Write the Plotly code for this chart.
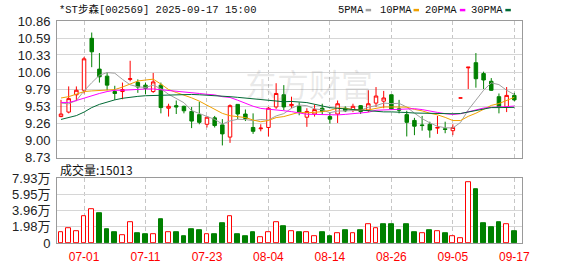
import plotly.graph_objects as go

# ---------------- data ----------------
dates = ["06-26", "06-27", "06-30", "07-01", "07-02", "07-03", "07-04", "07-07", "07-08", "07-09",
         "07-10", "07-11", "07-14", "07-15", "07-16", "07-17", "07-18", "07-21", "07-22", "07-23",
         "07-24", "07-25", "07-28", "07-29", "07-30", "07-31", "08-01", "08-04", "08-05", "08-06",
         "08-07", "08-08", "08-11", "08-12", "08-13", "08-14", "08-15", "08-18", "08-19", "08-20",
         "08-21", "08-22", "08-25", "08-26", "08-27", "08-28", "08-29", "09-01", "09-02", "09-03",
         "09-04", "09-05", "09-08", "09-09", "09-10", "09-11", "09-12", "09-15", "09-16", "09-17"]

opens = [9.37, 9.44, 9.71, 9.78, 10.59, 10.11, 10.00, 9.76, 9.76, 9.95,
         9.90, 9.86, 9.76, 9.86, 9.50, 9.54, 9.53, 9.45, 9.40, 9.25,
         9.35, 9.24, 9.05, 9.56, 9.41, 9.20, 9.18, 9.20, 9.52, 9.71,
         9.54, 9.53, 9.36, 9.41, 9.50, 9.37, 9.41, 9.50, 9.48, 9.54,
         9.47, 9.58, 9.61, 9.71, 9.49, 9.40, 9.31, 9.24, 9.25, 9.19,
         9.18, 9.15, 9.66, 10.13, 10.21, 10.04, 9.92, 9.68, 9.52, 9.70]
highs = [9.63, 9.84, 9.84, 10.30, 10.68, 10.36, 10.06, 9.85, 9.90, 10.24,
         9.95, 9.90, 10.05, 9.90, 9.57, 9.62, 9.54, 9.52, 9.60, 9.37,
         9.38, 9.33, 9.56, 9.56, 9.48, 9.42, 9.25, 9.52, 9.89, 9.86,
         9.68, 9.59, 9.50, 9.56, 9.57, 9.44, 9.62, 9.53, 9.57, 9.55,
         9.78, 9.83, 9.77, 9.71, 9.63, 9.46, 9.35, 9.38, 9.29, 9.38,
         9.29, 9.25, 9.66, 10.14, 10.36, 10.07, 9.97, 9.73, 9.83, 9.74]
lows = [9.36, 9.42, 9.61, 9.73, 10.14, 9.90, 9.78, 9.63, 9.64, 9.92,
        9.74, 9.72, 9.74, 9.42, 9.37, 9.41, 9.42, 9.19, 9.25, 9.20,
        9.20, 8.92, 8.96, 9.33, 9.30, 9.10, 9.14, 9.06, 9.49, 9.47,
        9.50, 9.39, 9.21, 9.37, 9.40, 9.26, 9.27, 9.44, 9.44, 9.41,
        9.44, 9.52, 9.50, 9.48, 9.42, 9.06, 9.08, 9.15, 9.04, 9.10,
        9.11, 9.08, 9.66, 9.80, 9.82, 9.80, 9.77, 9.42, 9.44, 9.61]
closes = [9.41, 9.65, 9.78, 10.27, 10.38, 9.99, 9.86, 9.73, 9.79, 9.96,
          9.83, 9.81, 9.91, 9.51, 9.53, 9.52, 9.46, 9.30, 9.28, 9.36,
          9.23, 9.10, 9.54, 9.41, 9.34, 9.14, 9.19, 9.50, 9.73, 9.52,
          9.56, 9.44, 9.45, 9.48, 9.45, 9.33, 9.57, 9.46, 9.53, 9.45,
          9.57, 9.69, 9.66, 9.49, 9.47, 9.28, 9.22, 9.23, 9.16, 9.20,
          9.17, 9.20, 9.66, 10.14, 9.96, 9.94, 9.78, 9.52, 9.70, 9.63]

ma5 = [9.58, 9.57, 9.62, 9.77, 9.898, 10.014, 10.056, 10.046, 9.95, 9.866,
       9.834, 9.824, 9.86, 9.804, 9.718, 9.656, 9.586, 9.464, 9.418, 9.384,
       9.326, 9.254, 9.302, 9.328, 9.324, 9.306, 9.324, 9.316, 9.38, 9.416,
       9.50, 9.55, 9.54, 9.49, 9.476, 9.43, 9.456, 9.458, 9.468, 9.468,
       9.516, 9.54, 9.58, 9.572, 9.576, 9.518, 9.424, 9.338, 9.272, 9.218,
       9.196, 9.192, 9.278, 9.474, 9.626, 9.78, 9.896, 9.868, 9.78, 9.714]
ma10 = [9.66, 9.68, 9.72, 9.76, 9.77, 9.78, 9.78, 9.79, 9.83, 9.882,
        9.924, 9.94, 9.953, 9.877, 9.792, 9.745, 9.705, 9.662, 9.611, 9.551,
        9.491, 9.42, 9.383, 9.373, 9.354, 9.316, 9.289, 9.309, 9.354, 9.37,
        9.403, 9.437, 9.428, 9.435, 9.446, 9.465, 9.503, 9.499, 9.479, 9.472,
        9.473, 9.498, 9.519, 9.52, 9.522, 9.517, 9.482, 9.459, 9.422, 9.397,
        9.357, 9.308, 9.308, 9.373, 9.422, 9.488, 9.544, 9.573, 9.627, 9.67]
ma20 = [9.59, 9.59, 9.62, 9.66, 9.69, 9.73, 9.76, 9.78, 9.78, 9.79,
        9.79, 9.80, 9.80, 9.79, 9.78, 9.77, 9.75, 9.74, 9.73, 9.717,
        9.708, 9.68, 9.668, 9.625, 9.573, 9.531, 9.497, 9.486, 9.483, 9.461,
        9.447, 9.429, 9.406, 9.404, 9.40, 9.391, 9.396, 9.404, 9.417, 9.421,
        9.438, 9.468, 9.474, 9.478, 9.484, 9.491, 9.493, 9.479, 9.451, 9.435,
        9.415, 9.403, 9.414, 9.447, 9.472, 9.503, 9.513, 9.516, 9.525, 9.534]
ma30 = [9.325, 9.35, 9.385, 9.44, 9.51, 9.56, 9.60, 9.63, 9.655, 9.675,
        9.685, 9.695, 9.70, 9.705, 9.71, 9.715, 9.715, 9.715, 9.71, 9.705,
        9.70, 9.69, 9.68, 9.67, 9.66, 9.645, 9.63, 9.62, 9.61, 9.601,
        9.606, 9.599, 9.588, 9.562, 9.531, 9.509, 9.499, 9.49, 9.481, 9.464,
        9.456, 9.452, 9.443, 9.443, 9.441, 9.433, 9.425, 9.422, 9.418, 9.413,
        9.411, 9.414, 9.418, 9.443, 9.463, 9.49, 9.51, 9.51, 9.509, 9.513]

volumes = [13500, 18200, 14700, 33300, 41400, 36000, 17400, 12800, 10100, 25100,
           11600, 10400, 11200, 29000, 13500, 12800, 8100, 17400, 16200, 11200,
           11200, 24400, 33300, 11200, 8100, 13500, 7700, 13500, 25100, 20500,
           14700, 12800, 13500, 8900, 12800, 8100, 12400, 16200, 12400, 15100,
           22800, 18200, 23200, 23200, 16200, 23200, 12800, 11600, 15100, 14700,
           11600, 8100, 5800, 73900, 66100, 24400, 19700, 25100, 22800, 15013]

price_ticks = [8.73, 9.00, 9.26, 9.53, 9.79, 10.06, 10.33, 10.59, 10.86]
price_tick_labels = ["8.73", "9.00", "9.26", "9.53", "9.79", "10.06", "10.33", "10.59", "10.86"]
vol_ticks = [0, 19800, 39600, 59500, 79300]
vol_tick_labels = ["0", "1.98万", "3.96万", "5.95万", "7.93万"]
date_tick_labels = ["07-01", "07-11", "07-23", "08-04", "08-14", "08-26", "09-05", "09-17"]

title_text = "*ST步森[002569] 2025-09-17 15:00"
ma_names = ["5PMA", "10PMA", "20PMA", "30PMA"]
ma_colors = ["#a0a0a0", "#f0a000", "#ff00ff", "#006a35"]

# ---------------- figure ----------------
RED = "#ff0000"
GREEN = "#008000"
x = list(range(len(dates)))
date_tick_pos = [dates.index(d) for d in date_tick_labels]

vol_up = [True] + [closes[i] >= closes[i - 1] for i in range(1, len(closes))]
vol_fill = ["#ffffff" if u else GREEN for u in vol_up]
vol_line = [RED if u else GREEN for u in vol_up]

fig = go.Figure()
fig.add_trace(go.Candlestick(
    x=x, open=opens, high=highs, low=lows, close=closes,
    increasing=dict(line=dict(color=RED, width=1), fillcolor="#ffffff"),
    decreasing=dict(line=dict(color=GREEN, width=1), fillcolor=GREEN),
    whiskerwidth=0, xaxis="x", yaxis="y", showlegend=False, hoverinfo="skip"))

for name, vals, col in zip(ma_names, [ma5, ma10, ma20, ma30], ma_colors):
    fig.add_trace(go.Scatter(x=x, y=vals, mode="lines", name=name,
                             line=dict(color=col, width=1), xaxis="x", yaxis="y",
                             showlegend=False, hoverinfo="skip"))

fig.add_trace(go.Bar(x=x, y=volumes, width=0.62,
                     marker=dict(color=vol_fill, line=dict(color=vol_line, width=1)),
                     xaxis="x2", yaxis="y2", showlegend=False, hoverinfo="skip"))

W, H = 578, 276
L, R, T, B = 56, 56, 21, 21
PW, PH = W - L - R, H - T - B


def px(xp):
    return (xp - L) / PW


def py(yp):
    return (H - B - yp) / PH


BORDER = "#9a9a9a"
GRID = "#d6d6d6"
VGRID = "#c6c6c6"
xr = [-0.52, 60.0]
axis_font = dict(family="Liberation Sans, Arial, sans-serif", size=13, color="#222222")

fig.update_layout(
    width=W, height=H,
    margin=dict(l=L, r=R, t=T, b=B, pad=0),
    paper_bgcolor="white", plot_bgcolor="white",
    bargap=0, boxgap=0.35,
    xaxis=dict(domain=[0, 1], anchor="y", range=xr, tickmode="array", tickvals=date_tick_pos,
               showticklabels=False, ticks="", showgrid=True, gridcolor=VGRID, griddash="4px,3px",
               gridwidth=1, showline=True, linecolor=BORDER, linewidth=1, mirror=True,
               zeroline=False, rangeslider=dict(visible=False), fixedrange=True),
    yaxis=dict(domain=[py(165), 1], anchor="x", range=[8.73, 10.86], tickmode="array",
               tickvals=price_ticks, ticktext=price_tick_labels, ticks="", showgrid=True,
               gridcolor=GRID, gridwidth=1, showline=True, linecolor=BORDER, linewidth=1,
               mirror=True, zeroline=False, tickfont=axis_font, ticklabelstandoff=3),
    xaxis2=dict(domain=[0, 1], anchor="y2", range=xr, tickmode="array", tickvals=date_tick_pos,
                ticktext=date_tick_labels, ticks="outside", ticklen=3, tickcolor="rgba(0,0,0,0)",
                tickfont=dict(family="Liberation Sans, Arial, sans-serif", size=12, color=RED),
                showgrid=True, gridcolor=VGRID, griddash="4px,3px", gridwidth=1,
                showline=True, linecolor=BORDER, linewidth=1, mirror=True, zeroline=False),
    yaxis2=dict(domain=[0, py(186.7)], anchor="x2", range=[0, 79300], tickmode="array",
                tickvals=vol_ticks, ticktext=vol_tick_labels, ticks="", showgrid=True,
                gridcolor=GRID, gridwidth=1, showline=True, linecolor=BORDER, linewidth=1,
                mirror=True, zeroline=False,
                tickfont=dict(family="Liberation Sans, Noto Sans CJK SC, sans-serif", size=13,
                              color="#222222"), ticklabelstandoff=3),
)

mono = "Liberation Mono, Noto Sans CJK SC, monospace"
ann = [
    dict(text=title_text, x=px(56), y=py(9), xanchor="left", yanchor="middle",
         font=dict(family=mono, size=10.5, color="#111111")),
    dict(text="成交量:15013", x=px(57), y=py(178), xanchor="left", yanchor="middle",
         font=dict(family="Noto Sans CJK SC, sans-serif", size=12, color="#111111")),
    dict(text="东方财富", x=px(309), y=py(86), xanchor="center", yanchor="middle",
         font=dict(family="Noto Sans CJK SC, sans-serif", size=32, color="rgba(120,120,120,0.16)")),
]
legend_text_centers = [350.5, 395.5, 440.5, 486.5]
legend_swatch_left = [365.3, 413.3, 459.7, 505.3]
shapes = []
for name, col, cx, sl in zip(ma_names, ma_colors, legend_text_centers, legend_swatch_left):
    ann.append(dict(text=name, x=px(cx), y=py(9), xanchor="center", yanchor="middle",
                    font=dict(family=mono, size=10.5, color="#111111")))
    shapes.append(dict(type="rect", xref="paper", yref="paper", x0=px(sl), x1=px(sl + 5.5),
                       y0=py(10.8), y1=py(8.2), fillcolor=col, line=dict(width=0)))

for a in ann:
    a.update(xref="paper", yref="paper", showarrow=False)
fig.update_layout(annotations=ann, shapes=shapes)

fig.write_html("out.html")
